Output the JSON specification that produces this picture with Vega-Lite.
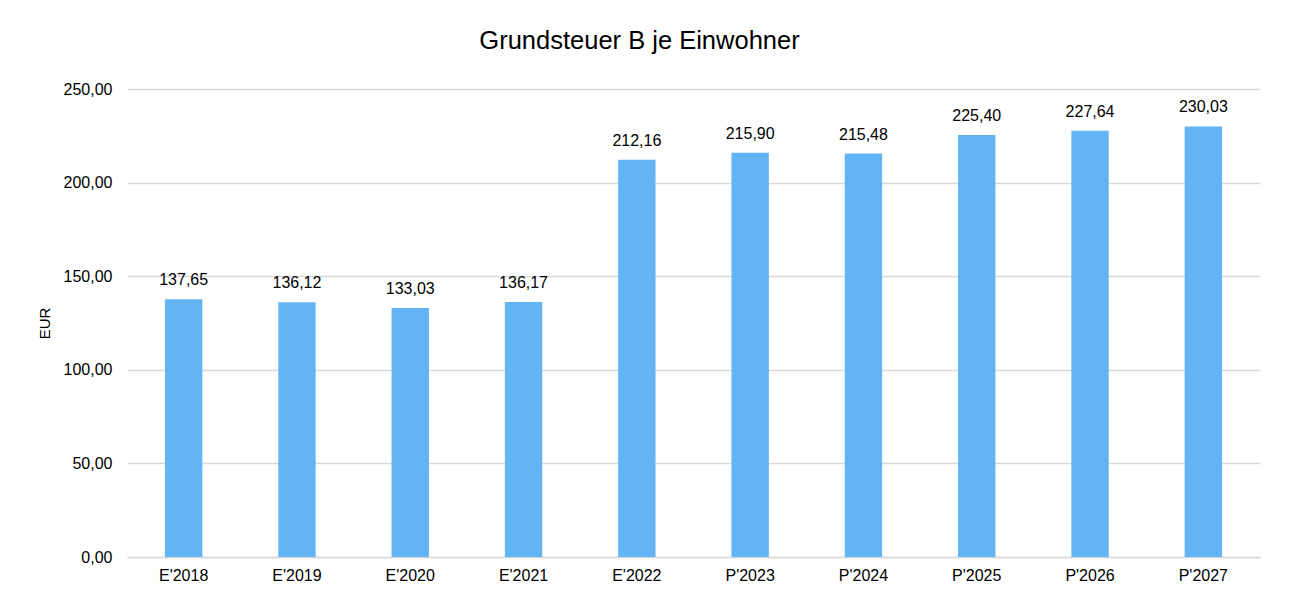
{
  "$schema": "https://vega.github.io/schema/vega-lite/v6.json",
  "width": 1133,
  "height": 468,
  "autosize": {"type": "none"},
  "padding": {"left": 127, "top": 89, "right": 30, "bottom": 43},
  "background": "white",
  "title": {
    "text": "Grundsteuer B je Einwohner",
    "font": "Liberation Sans",
    "fontSize": 25.5,
    "fontWeight": "normal",
    "color": "#000000",
    "anchor": "middle",
    "dx": -54,
    "offset": 27
  },
  "data": {
    "values": [
      {"jahr": "E'2018", "wert": 137.65},
      {"jahr": "E'2019", "wert": 136.12},
      {"jahr": "E'2020", "wert": 133.03},
      {"jahr": "E'2021", "wert": 136.17},
      {"jahr": "E'2022", "wert": 212.16},
      {"jahr": "P'2023", "wert": 215.90},
      {"jahr": "P'2024", "wert": 215.48},
      {"jahr": "P'2025", "wert": 225.40},
      {"jahr": "P'2026", "wert": 227.64},
      {"jahr": "P'2027", "wert": 230.03}
    ]
  },
  "encoding": {
    "x": {
      "field": "jahr",
      "type": "nominal",
      "sort": null,
      "scale": {"paddingInner": 0.67, "paddingOuter": 0.335},
      "axis": {
        "title": null,
        "labelAngle": 0,
        "labelFont": "Liberation Sans",
        "labelFontSize": 16,
        "labelColor": "#000000",
        "labelPadding": 10,
        "ticks": false,
        "domain": true,
        "domainColor": "#d9d9d9",
        "domainWidth": 1.5,
        "grid": false
      }
    },
    "y": {
      "field": "wert",
      "type": "quantitative",
      "scale": {"domain": [0, 250], "nice": false},
      "axis": {
        "title": "EUR",
        "titleFont": "Liberation Sans",
        "titleFontSize": 15,
        "titleFontWeight": "normal",
        "titleColor": "#000000",
        "titlePadding": 11,
        "values": [0, 50, 100, 150, 200, 250],
        "format": ",.2f",
        "labelFont": "Liberation Sans",
        "labelFontSize": 16,
        "labelColor": "#000000",
        "labelPadding": 15,
        "ticks": false,
        "domain": false,
        "grid": true,
        "gridColor": "#d9d9d9",
        "gridWidth": 1.5
      }
    }
  },
  "layer": [
    {
      "mark": {"type": "bar", "color": "#63b4f5"}
    },
    {
      "mark": {
        "type": "text",
        "baseline": "alphabetic",
        "dy": -14,
        "font": "Liberation Sans",
        "fontSize": 16,
        "color": "#000000"
      },
      "encoding": {
        "text": {"field": "wert", "type": "quantitative", "format": ",.2f"}
      }
    }
  ],
  "config": {
    "locale": {
      "number": {
        "decimal": ",",
        "thousands": ".",
        "grouping": [3],
        "currency": ["", " €"]
      }
    },
    "view": {"stroke": null}
  }
}
